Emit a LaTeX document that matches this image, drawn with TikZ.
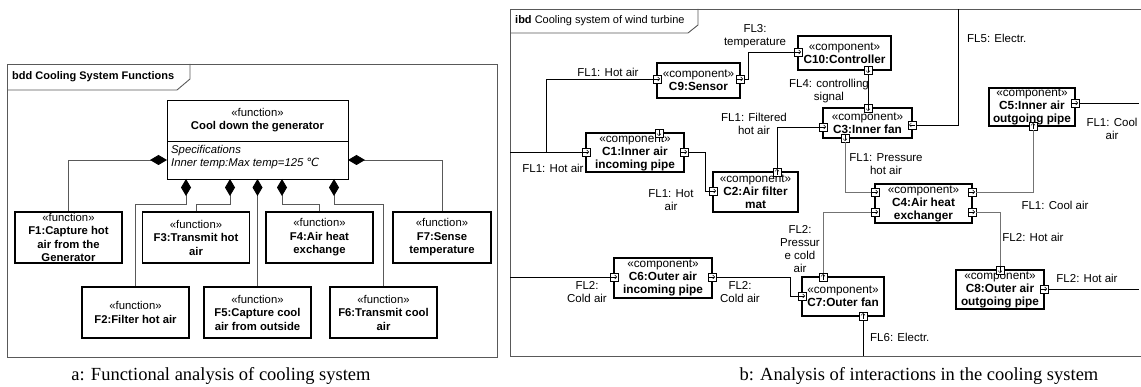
\documentclass[tikz,border=0pt]{standalone}
\usepackage{fontspec}
\setmainfont{Liberation Sans}
\newfontfamily\capfont{Liberation Serif}
\newfontfamily\symfont{DejaVu Sans}
\usetikzlibrary{arrows.meta,calc}

% port square with its flow direction
\newcommand{\port}[4]{%
    \node[port] (#1) at (#2) {};
    \draw[portarr] ($(#1)-(#3,#4)$) -- ($(#1)+(#3,#4)$);
}

\begin{document}
\begin{tikzpicture}[x=1pt, y=-1pt,
    frame/.style={draw=black!65, line width=0.9pt},
    fn/.style={draw, line width=1.2pt, align=center, minimum width=107pt, minimum height=51pt, inner sep=1pt, font=\fontsize{11.3}{13.5}\selectfont},
    comp/.style={draw, line width=1.3pt, align=center, inner sep=0pt, font=\fontsize{11.8}{13}\selectfont},
    port/.style={draw, fill=white, line width=0.6pt, minimum size=8pt, inner sep=0pt},
    portarr/.style={line width=0.5pt, -{Straight Barb[length=2pt,width=4pt]}},
    flow/.style={line width=0.8pt},
    gflow/.style={flow, black!55},
    lbl/.style={align=center, inner sep=0pt, font=\fontsize{11.5}{13}\selectfont},
    cmp/.style={draw=black!65, line width=0.9pt, -{Diamond[length=17pt,width=10pt,color=black]}}]
    \useasboundingbox (0,0) rectangle (1141,387);

    % ---------- a: bdd ----------
    \draw[frame] (7,64) rectangle (497,357);
    \draw[frame] (7,90) -- (177,90) -- (190,79) -- (190,64);
    \node[anchor=west, inner sep=0pt, font=\fontsize{11}{13}\bfseries] (bddtitle) at (12,77) {bdd Cooling System Functions};

    \node[draw, line width=0.8pt, minimum width=181pt, minimum height=79pt] (cool) at (257.5,139.5) {};
    \node[align=center, inner sep=0pt, font=\fontsize{11.3}{13}\selectfont] (coolname) at (257.5,120.5) {«function»\\\textbf{Cool down the generator}};
    \draw[line width=0.6pt] (167,141) -- (348,141);
    \node[anchor=north west, align=left, inner sep=0pt, font=\fontsize{11.3}{13}\itshape] (coolspec) at (171,145) {Specifications\\Inner temp:Max temp=125 {\symfont\itshape ℃}};

    \node[fn] (f1) at (68.5,237.5) {«function»\\\textbf{F1:Capture hot}\\\textbf{air from the}\\\textbf{Generator}};
    \node[fn] (f3) at (196,237.5) {«function»\\\textbf{F3:Transmit hot}\\\textbf{air}};
    \node[fn] (f4) at (319.5,237.5) {«function»\\\textbf{F4:Air heat}\\\textbf{exchange}};
    \node[fn, minimum width=98pt] (f7) at (442,237.5) {«function»\\\textbf{F7:Sense}\\\textbf{temperature}};
    \node[fn] (f2) at (135.5,312.5) {«function»\\\textbf{F2:Filter hot air}};
    \node[fn] (f5) at (257.5,312.5) {«function»\\\textbf{F5:Capture cool}\\\textbf{air from outside}};
    \node[fn] (f6) at (383.5,312.5) {«function»\\\textbf{F6:Transmit cool}\\\textbf{air}};

    \coordinate (d1) at (167,160);
    \coordinate (d7) at (348,160);
    \coordinate (d2) at (186,179);
    \coordinate (d3) at (230,179);
    \coordinate (d5) at (257.5,179);
    \coordinate (d4) at (282,179);
    \coordinate (d6) at (334,179);
    \draw[cmp] (f1.north) |- (d1);
    \draw[cmp] (f7.north) |- (d7);
    \draw[cmp] (f5.north) -- (d5);
    \draw[cmp] (f2.north) -- ++(0,-82) -| (d2);
    \draw[cmp] (f3.north) -- ++(0,-7) -| (d3);
    \draw[cmp] (f4.north) -- ++(0,-7) -| (d4);
    \draw[cmp] (f6.north) -- ++(0,-82) -| (d6);

    \node[font=\capfont\fontsize{18.5}{20}\selectfont] (capa) at (221,376) {a: Functional analysis of cooling system};

    % ---------- b: ibd ----------
    \draw[frame] (1141,9) -- (510,9) -- (510,356) -- (1141,356);
    \draw[frame] (510,33) -- (688,33) -- (698,25) -- (698,9);
    \node[anchor=west, inner sep=0pt, font=\fontsize{11}{13}\selectfont] (ibdtitle) at (515,21) {\textbf{ibd} Cooling system of wind turbine};

    \node[comp, minimum width=83pt, minimum height=35pt] (c9) at (698.5,80.5) {«component»\\\textbf{C9:Sensor}};
    \node[comp, minimum width=93pt, minimum height=34pt] (c10) at (844.5,53) {«component»\\\textbf{C10:Controller}};
    \node[comp, minimum width=98pt, minimum height=39pt] (c1) at (635,152.5) {«component»\\\textbf{C1:Inner air}\\\textbf{incoming pipe}};
    \node[comp, minimum width=85pt, minimum height=40pt] (c2) at (755.5,192) {«component»\\\textbf{C2:Air filter}\\\textbf{mat}};
    \node[comp, minimum width=89pt, minimum height=30pt] (c3) at (867.5,123) {«component»\\\textbf{C3:Inner fan}};
    \node[comp, minimum width=97pt, minimum height=39pt] (c4) at (923.5,203.5) {«component»\\\textbf{C4:Air heat}\\\textbf{exchanger}};
    \node[comp, minimum width=86pt, minimum height=38pt] (c5) at (1032,107) {«component»\\\textbf{C5:Inner air}\\\textbf{outgoing pipe}};
    \node[comp, minimum width=98pt, minimum height=40pt] (c6) at (663,278) {«component»\\\textbf{C6:Outer air}\\\textbf{incoming pipe}};
    \node[comp, minimum width=82pt, minimum height=39pt] (c7) at (843,296.5) {«component»\\\textbf{C7:Outer fan}};
    \node[comp, minimum width=88pt, minimum height=39pt] (c8) at (1000,289.5) {«component»\\\textbf{C8:Outer air}\\\textbf{outgoing pipe}};

    \port{c9l}{657,79}{3}{0}
    \port{c9r}{740,79}{3}{0}
    \port{c10l}{798,52}{3}{0}
    \port{c10b}{868,70}{0}{3}
    \port{c1l}{586,152}{3}{0}
    \port{c1r}{684,152}{3}{0}
    \port{c1t}{659,133}{0}{3}
    \port{c2l}{713,191}{3}{0}
    \port{c2t}{777,172}{0}{-3}
    \port{c3l}{823,127}{3}{0}
    \port{c3t}{868,108}{0}{3}
    \port{c3r}{912,125}{-3}{0}
    \port{c3b}{845,138}{0}{3}
    \port{c4l1}{875,192}{3}{0}
    \port{c4l2}{875,212}{3}{0}
    \port{c4r1}{972,192}{3}{0}
    \port{c4r2}{972,212}{3}{0}
    \port{c5r}{1075,103}{3}{0}
    \port{c5b}{1033,126}{0}{-3}
    \port{c6l}{614,277}{3}{0}
    \port{c6r}{712,277}{3}{0}
    \port{c7t}{823,277}{0}{-3}
    \port{c7l}{802,296}{3}{0}
    \port{c7b}{863,316}{0}{-3}
    \port{c8t}{1000,270}{0}{3}
    \port{c8r}{1044,289}{3}{0}

    % frame ends and junction
    \coordinate (inl1) at (510,152);
    \coordinate (inl2) at (510,277);
    \coordinate (j1) at (546,152);
    \coordinate (topfl5) at (958,9);
    \coordinate (botfl6) at (863,356);
    \coordinate (oute1) at (1139,103);
    \coordinate (oute2) at (1139,289);

    \draw[flow] (inl1) -- (c1l);
    \draw[flow] (c9l) -| (j1);
    \draw[flow] (c9r) -- ++(8,0) |- (c10l);
    \draw[flow] (c10b) -- (c3t);
    \draw[flow] (c1r) -| ($(c2l)+(-8,0)$) -- (c2l);
    \draw[flow] (c2t) |- (c3l);
    \draw[flow] (c3r) -| (topfl5);
    \draw[gflow] (c3b) |- (c4l1);
    \draw[gflow] (c4r1) -| (c5b);
    \draw[flow] (c5r) -- (oute1);
    \draw[gflow] (c4r2) -| (c8t);
    \draw[flow] (c8r) -- (oute2);
    \draw[gflow] (c4l2) -| (c7t);
    \draw[flow] (inl2) -- (c6l);
    \draw[flow] (c6r) -| ($(c7l)+(-12,0)$) -- (c7l);
    \draw[flow] (c7b) -- (botfl6);

    \node[lbl] (fl1a) at (608,72) {FL1: Hot air};
    \node[lbl] (fl1b) at (553,168) {FL1: Hot air};
    \node[lbl] (fl3) at (755,36) {FL3:\\temperature};
    \node[lbl] (fl4) at (829,91) {FL4: controlling\\signal};
    \node[lbl, anchor=west] (fl5) at (967,38) {FL5: Electr.};
    \node[lbl] (fl1c) at (754,124) {FL1: Filtered\\hot air};
    \node[lbl] (fl1d) at (886,164) {FL1: Pressure\\hot air};
    \node[lbl] (fl1e) at (671,200) {FL1: Hot\\air};
    \node[lbl] (fl1f) at (1112,129) {FL1: Cool\\air};
    \node[lbl] (fl1g) at (1055,205) {FL1: Cool air};
    \node[lbl] (fl2a) at (1033,237) {FL2: Hot air};
    \node[lbl] (fl2b) at (1087,278) {FL2: Hot air};
    \node[lbl] (fl2c) at (800,249) {FL2:\\Pressur\\e cold\\air};
    \node[lbl] (fl2d) at (587,292) {FL2:\\Cold air};
    \node[lbl] (fl2e) at (740,292) {FL2:\\Cold air};
    \node[lbl, anchor=west] (fl6) at (870,337) {FL6: Electr.};

    \node[font=\capfont\fontsize{18.5}{20}\selectfont] (capb) at (919,376) {b: Analysis of interactions in the cooling system};
\end{tikzpicture}
\end{document}
